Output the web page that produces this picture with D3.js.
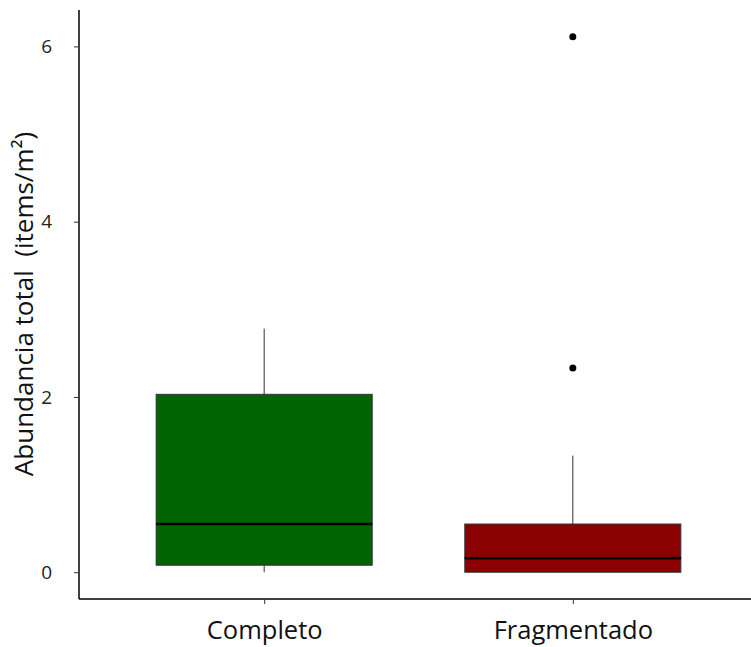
<!DOCTYPE html>
<html>
<head>
<meta charset="utf-8">
<script src="https://cdn.jsdelivr.net/npm/d3@7"></script>
<style>
  body { margin: 0; background: #fff; }
  svg { font-family: "Open Sans", "Noto Sans", sans-serif; }
</style>
</head>
<body>
<div id="chart"></div>
<script>
// Box plot summaries
const groups = ["Completo", "Fragmentado"];
const lowerWhisker = [0.0, 0.0];
const q1 = [0.08, 0.0];
const median = [0.55, 0.16];
const q3 = [2.03, 0.55];
const upperWhisker = [2.78, 1.33];
const outliers = [[], [2.33, 6.11]];
const fills = ["#006400", "#8b0000"];
const yTicks = [0, 2, 4, 6];

const width = 751, height = 647;
const margin = { top: 10, right: 0, bottom: 48, left: 79 };

const svg = d3.select("#chart")
    .append("svg")
    .attr("width", width)
    .attr("height", height);

// discrete x positions 1..n, with ggplot-like padding
const x = d3.scaleLinear()
    .domain([0.4, 2.6])
    .range([margin.left, 758]);

const y = d3.scaleLinear()
    .domain([-0.3055, 6.4155])
    .range([height - margin.bottom, margin.top]);

const boxW = x(1.35) - x(1);

const data = groups.map((g, i) => ({
    name: g, pos: i + 1,
    lo: lowerWhisker[i], q1: q1[i], med: median[i], q3: q3[i], hi: upperWhisker[i],
    out: outliers[i], fill: fills[i]
}));

const box = svg.selectAll("g.box")
    .data(data)
    .enter()
    .append("g")
    .attr("class", "box");

// whiskers
box.append("line")
    .attr("x1", d => x(d.pos)).attr("x2", d => x(d.pos))
    .attr("y1", d => y(d.q3)).attr("y2", d => y(d.hi))
    .attr("stroke", "#333").attr("stroke-width", 1);
box.append("line")
    .attr("x1", d => x(d.pos)).attr("x2", d => x(d.pos))
    .attr("y1", d => y(d.q1)).attr("y2", d => y(d.lo))
    .attr("stroke", "#333").attr("stroke-width", 1);

// box
box.append("rect")
    .attr("x", d => x(d.pos) - boxW)
    .attr("width", boxW * 2)
    .attr("y", d => y(d.q3))
    .attr("height", d => y(d.q1) - y(d.q3))
    .attr("fill", d => d.fill)
    .attr("stroke", "#333")
    .attr("stroke-width", 1);

// median
box.append("line")
    .attr("x1", d => x(d.pos) - boxW).attr("x2", d => x(d.pos) + boxW)
    .attr("y1", d => y(d.med)).attr("y2", d => y(d.med))
    .attr("stroke", "#000").attr("stroke-width", 2.5);

// outliers
box.selectAll("circle")
    .data(d => d.out.map(v => ({ pos: d.pos, v: v })))
    .enter()
    .append("circle")
    .attr("cx", d => x(d.pos))
    .attr("cy", d => y(d.v))
    .attr("r", 3.5)
    .attr("fill", "#000");

// axes
const yAxis = svg.append("g")
    .attr("transform", `translate(${margin.left},0)`)
    .call(d3.axisLeft(y).tickValues(yTicks).tickFormat(d3.format("d"))
        .tickSize(5).tickPadding(22).tickSizeOuter(0));
yAxis.select(".domain").attr("stroke", "#000").attr("stroke-width", 1.5)
    .attr("d", `M0,${y.range()[1]}V${y.range()[0]}`);
yAxis.selectAll(".tick line").attr("stroke", "#333");
yAxis.selectAll(".tick text").attr("font-size", 19).attr("fill", "#222")
    .attr("font-family", "'Open Sans', sans-serif");

const xAxis = svg.append("g")
    .attr("transform", `translate(0,${height - margin.bottom})`)
    .call(d3.axisBottom(x).tickValues([1, 2]).tickFormat(d => groups[d - 1])
        .tickSize(5).tickPadding(17).tickSizeOuter(0));
xAxis.select(".domain").attr("stroke", "#000").attr("stroke-width", 1.5)
    .attr("d", `M${margin.left},0H${width}`);
xAxis.selectAll(".tick line").attr("stroke", "#333");
xAxis.selectAll(".tick text").attr("font-size", 25.5).attr("fill", "#111")
    .attr("font-family", "'Open Sans', sans-serif");

// y axis title
svg.append("text")
    .attr("transform", `translate(33,304) rotate(-90)`)
    .attr("text-anchor", "middle")
    .attr("font-size", 26)
    .attr("fill", "#111")
    .text("Abundancia total\u00a0\u00a0(items/m²)");
</script>
</body>
</html>
